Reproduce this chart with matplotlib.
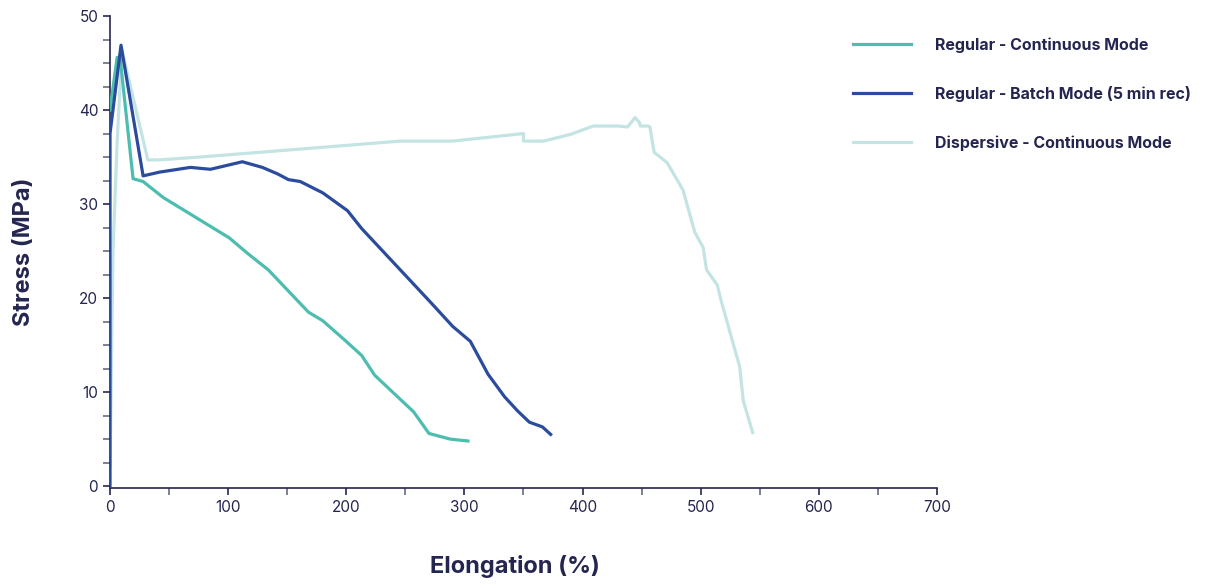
import numpy as np
import matplotlib.pyplot as plt
from matplotlib.ticker import MultipleLocator

# stress-strain curves
cont_x = [0, 6, 8.5, 19.5, 28, 45, 101, 116, 134, 168, 180, 199, 213, 224, 257, 270, 288, 303]
cont_y = [40, 45.6, 45.6, 32.7, 32.4, 30.7, 26.4, 24.8, 23.0, 18.5, 17.6, 15.5, 13.9, 11.8, 7.9, 5.6, 5.0, 4.8]

batch_x = [0, 0, 9.3, 28, 42, 68, 85, 112, 129, 142, 151, 161, 180, 201, 213, 271, 290, 305, 320, 334, 345, 355, 366, 373]
batch_y = [0, 37.5, 46.9, 33.0, 33.4, 33.9, 33.7, 34.5, 33.9, 33.2, 32.6, 32.4, 31.2, 29.3, 27.4, 19.6, 17.0, 15.4, 11.9, 9.5, 8.0, 6.8, 6.3, 5.5]

disp_x = [0, 2.5, 6, 10, 32, 42, 76, 246, 290, 350, 350, 367, 389.5, 409, 430, 438, 444.5, 448, 449, 455.5,
          457, 460.6, 465.7, 471.6, 485, 495, 502, 505, 514, 518, 533, 536, 544]
disp_y = [2, 25, 36.5, 46.4, 34.7, 34.7, 35.0, 36.7, 36.7, 37.5, 36.7, 36.7, 37.4, 38.3, 38.3, 38.2, 39.2, 38.7, 38.3, 38.3,
          38.2, 35.5, 35.0, 34.4, 31.5, 27.0, 25.4, 23.0, 21.4, 19.4, 12.7, 9.1, 5.7]

labels = ['Regular - Continuous Mode', 'Regular - Batch Mode (5 min rec)', 'Dispersive - Continuous Mode']
colors = ['#4dbdb0', '#2b4c9c', '#c3e4e3']
navy = '#25264f'

plt.rcParams['font.family'] = ['Inter', 'DejaVu Sans']

fig = plt.figure(figsize=(12.09, 5.85), dpi=100)
ax = fig.add_axes([0.091, 0.1658, 0.684, 0.8068])

# draw light curve first so others sit on top
ax.plot(disp_x, disp_y, color=colors[2], lw=2.3, label=labels[2], zorder=2)
ax.plot(cont_x, cont_y, color=colors[0], lw=2.3, label=labels[0], zorder=3)
ax.plot(batch_x, batch_y, color=colors[1], lw=2.3, label=labels[1], zorder=4)

ax.set_xlim(0, 700)
ax.set_ylim(-0.2, 50)
ax.xaxis.set_major_locator(MultipleLocator(100))
ax.xaxis.set_minor_locator(MultipleLocator(50))
ax.yaxis.set_major_locator(MultipleLocator(10))
ax.yaxis.set_minor_locator(MultipleLocator(2.5))

for s in ['top', 'right']:
    ax.spines[s].set_visible(False)
for s in ['left', 'bottom']:
    ax.spines[s].set_color(navy)
    ax.spines[s].set_linewidth(1.2)

ax.tick_params(which='both', length=5, width=1.2, color=navy, labelcolor=navy, labelsize=11)
ax.tick_params(axis='y', which='minor', color='#6a6a88')
ax.tick_params(axis='x', which='minor', color='#6a6a88')

ax.set_xlabel('Elongation (%)', fontsize=17, fontweight='bold', color=navy)
ax.set_ylabel('Stress (MPa)', fontsize=17, fontweight='bold', color=navy)
ax.xaxis.set_label_coords(0.49, -0.143)
ax.yaxis.set_label_coords(-0.091, 0.5)

h, l = ax.get_legend_handles_labels()
order = [1, 2, 0]
fig.legend([h[i] for i in order], [l[i] for i in order], loc='upper left',
           bbox_to_anchor=(0.694, 0.961), frameon=False, handlelength=3.6,
           handletextpad=1.5, labelspacing=2.08,
           prop={'weight': 'bold', 'size': 11.5}, labelcolor=navy)

fig.savefig('out.png', dpi=100)
